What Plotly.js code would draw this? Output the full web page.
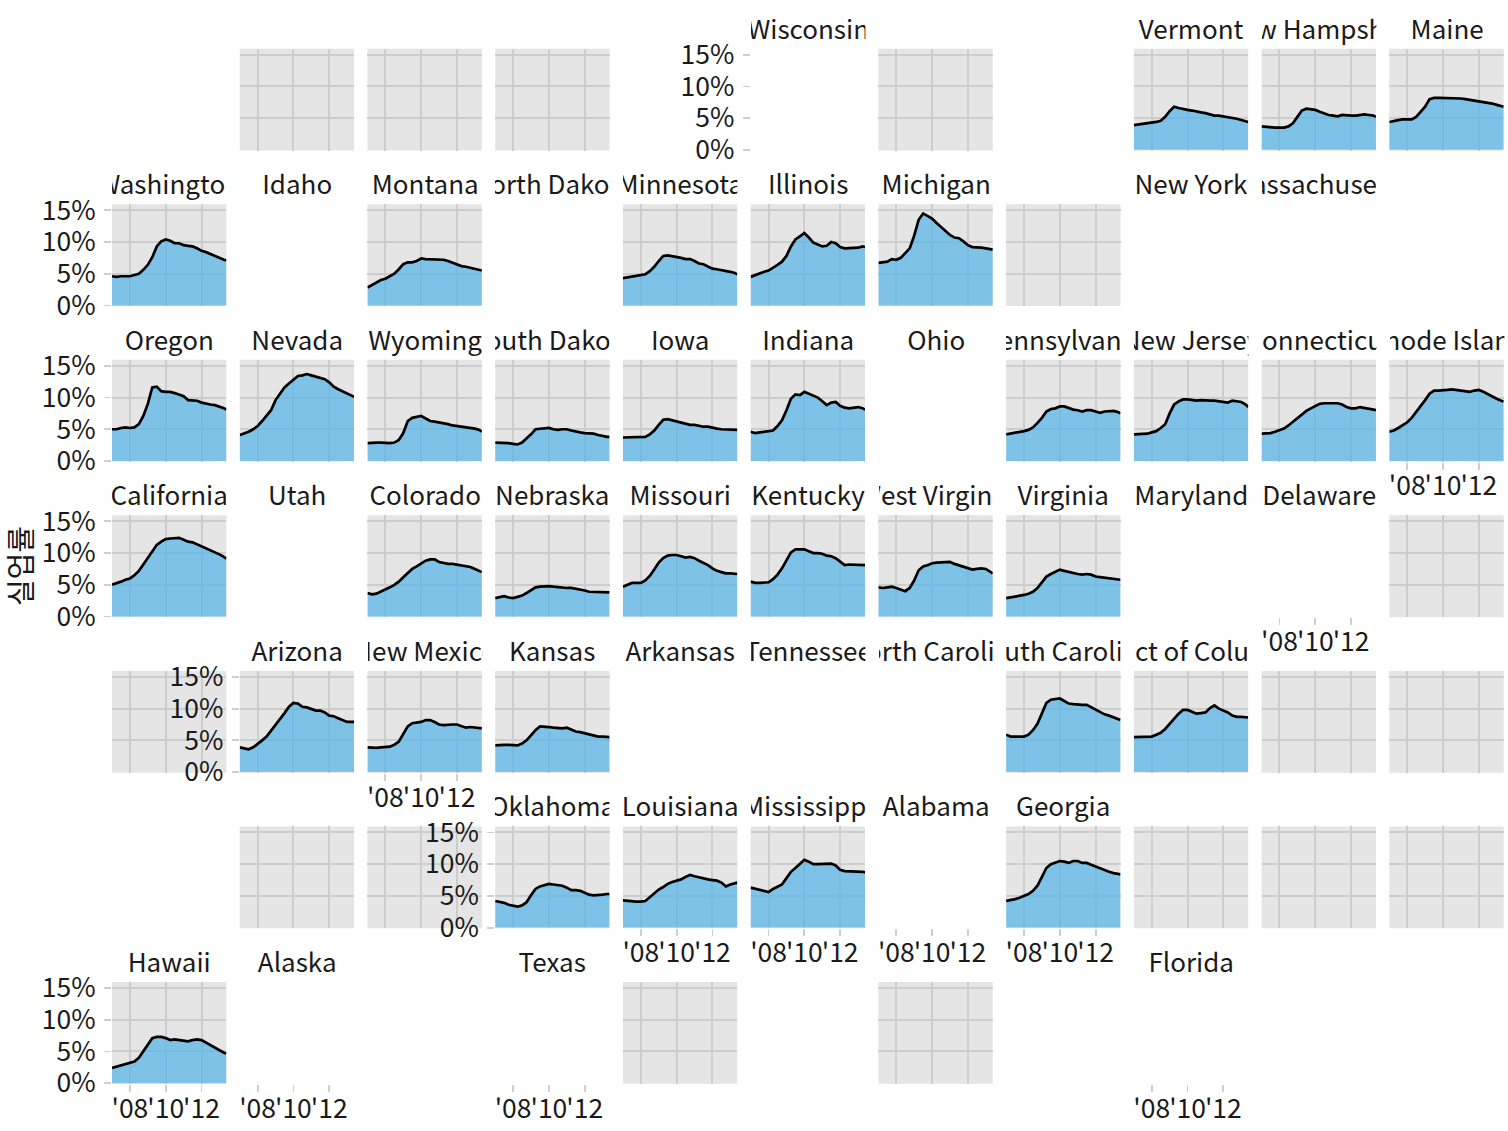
<!DOCTYPE html>
<html>
<head>
<meta charset="utf-8">
<script src="https://cdn.plot.ly/plotly-3.0.1.min.js"></script>
<style>
html,body{margin:0;padding:0;background:#ffffff;}
#chart{width:1508px;height:1131px;}
</style>
</head>
<body>
<div id="chart"></div>
<script>
// ---------------- data ----------------
const years = [2007, 2007.25, 2007.5, 2007.75, 2008, 2008.25, 2008.5, 2008.75, 2009, 2009.25, 2009.5, 2009.75,
  2010, 2010.25, 2010.5, 2010.75, 2011, 2011.25, 2011.5, 2011.75, 2012, 2012.25, 2012.5, 2012.75, 2013, 2013.25, 2013.39];
const xTickVals = [2008, 2010, 2012];
const xTickText = ["'08", "'10", "'12"];
const yTickVals = [0, 5, 10, 15];
const yTickText = ['0%', '5%', '10%', '15%'];
const yTitle = '실업률';

const vermont       = [3.9,4.0,4.0,4.2,4.3,4.4,4.6,5.2,6.1,6.8,6.6,6.4,6.3,6.2,6.0,5.9,5.8,5.6,5.4,5.4,5.3,5.1,5.0,4.9,4.7,4.5,4.4];
const newHampshire  = [3.7,3.6,3.5,3.5,3.5,3.5,3.7,4.2,5.2,6.2,6.5,6.4,6.3,6.0,5.7,5.5,5.4,5.3,5.5,5.4,5.4,5.4,5.5,5.6,5.5,5.4,5.2];
const maine         = [4.4,4.6,4.7,4.8,4.8,4.8,5.2,6.0,6.8,8.0,8.2,8.2,8.2,8.1,8.1,8.1,8.1,8.0,7.9,7.8,7.7,7.6,7.4,7.3,7.1,6.9,6.8];
const washington    = [4.6,4.5,4.6,4.6,4.6,4.8,5.0,5.6,6.4,7.6,9.3,10.1,10.4,10.2,9.8,9.8,9.5,9.4,9.3,9.0,8.6,8.4,8.1,7.8,7.4,7.2,7.1];
const montana       = [2.8,3.2,3.7,4.0,4.2,4.6,5.0,5.7,6.5,6.8,6.8,7.0,7.4,7.3,7.3,7.3,7.3,7.2,7.0,6.7,6.4,6.2,6.1,5.9,5.7,5.6,5.5];
const minnesota     = [4.3,4.4,4.5,4.6,4.7,4.9,5.4,6.1,7.0,7.8,7.9,7.8,7.6,7.5,7.3,7.3,7.0,6.6,6.5,6.1,5.8,5.7,5.6,5.5,5.3,5.1,4.9];
const illinois      = [4.5,4.8,5.1,5.3,5.5,5.9,6.4,6.9,7.8,9.3,10.4,10.9,11.4,10.7,9.9,9.6,9.3,9.4,10.0,9.8,9.2,9.0,9.0,9.0,9.1,9.3,9.2];
const michigan      = [6.7,6.8,6.9,7.3,7.2,7.5,8.2,9.0,11.0,13.5,14.5,14.1,13.7,13.0,12.4,11.8,11.1,10.7,10.6,10.1,9.5,9.2,9.2,9.1,9.0,8.9,8.8];
const oregon        = [5.0,5.0,5.2,5.3,5.2,5.3,5.8,7.1,9.0,11.6,11.7,11.0,10.9,10.9,10.7,10.5,10.2,9.6,9.5,9.5,9.2,9.0,8.9,8.8,8.6,8.3,8.1];
const nevada        = [4.1,4.3,4.6,5.0,5.5,6.3,7.2,8.0,9.6,10.7,11.6,12.2,12.8,13.4,13.5,13.7,13.5,13.3,13.1,12.9,12.4,11.7,11.3,11.0,10.7,10.3,10.1];
const wyoming       = [2.8,2.9,2.9,2.9,2.8,2.8,2.9,3.3,4.4,6.3,6.8,7.0,7.1,6.7,6.3,6.2,6.1,5.9,5.8,5.6,5.5,5.4,5.4,5.3,5.1,4.9,4.6];
const southDakota   = [2.9,2.9,2.8,2.8,2.7,2.6,2.9,3.5,4.2,5.0,5.1,5.1,5.2,5.0,4.9,5.0,5.0,4.8,4.6,4.5,4.4,4.4,4.3,4.1,3.9,3.8,3.8];
const iowa          = [3.7,3.7,3.7,3.7,3.7,3.8,4.2,4.8,5.7,6.5,6.6,6.4,6.2,6.0,5.8,5.7,5.7,5.5,5.4,5.4,5.2,5.1,5.0,5.0,4.9,4.9,4.9];
const indiana       = [4.6,4.4,4.5,4.6,4.6,4.8,5.5,6.4,8.0,9.8,10.5,10.4,10.9,10.6,10.2,10.0,9.4,8.8,9.2,9.3,8.7,8.4,8.3,8.4,8.5,8.3,8.1];
const pennsylvania  = [4.2,4.3,4.5,4.6,4.7,4.9,5.3,6.0,6.8,7.8,8.2,8.3,8.6,8.6,8.3,8.1,8.0,7.8,8.0,8.0,7.8,7.6,7.8,7.9,7.9,7.7,7.5];
const newJersey     = [4.2,4.2,4.2,4.3,4.5,4.7,5.2,5.8,7.5,8.9,9.4,9.7,9.7,9.6,9.5,9.6,9.5,9.5,9.5,9.4,9.3,9.2,9.5,9.4,9.3,8.9,8.5];
const connecticut   = [4.3,4.3,4.4,4.6,4.9,5.1,5.6,6.2,6.7,7.3,7.9,8.3,8.7,9.0,9.1,9.1,9.2,9.1,8.9,8.5,8.3,8.3,8.5,8.4,8.2,8.1,8.0];
const rhodeIsland   = [4.6,4.8,5.2,5.6,6.1,6.8,7.7,8.6,9.6,10.6,11.1,11.1,11.1,11.2,11.3,11.2,11.1,11.0,10.9,11.1,11.2,10.9,10.5,10.1,9.8,9.5,9.4];
const california    = [5.0,5.2,5.5,5.8,6.0,6.5,7.2,8.2,9.3,10.4,11.3,11.8,12.2,12.3,12.3,12.4,12.1,11.8,11.7,11.4,11.1,10.8,10.5,10.1,9.8,9.4,9.1];
const colorado      = [3.7,3.5,3.6,3.9,4.2,4.6,5.0,5.5,6.2,6.9,7.5,7.9,8.4,8.8,9.0,9.0,8.6,8.4,8.3,8.3,8.2,8.1,8.0,7.8,7.5,7.2,7.0];
const nebraska      = [2.9,3.1,3.2,3.0,2.9,3.1,3.3,3.7,4.2,4.6,4.7,4.8,4.8,4.7,4.6,4.5,4.5,4.5,4.4,4.2,4.1,3.9,3.9,3.9,3.9,3.8,3.8];
const missouri      = [4.7,5.0,5.3,5.3,5.3,5.7,6.4,7.4,8.5,9.2,9.6,9.7,9.7,9.5,9.3,9.4,9.2,8.8,8.5,8.1,7.6,7.2,7.0,6.8,6.8,6.8,6.7];
const kentucky      = [5.5,5.3,5.3,5.4,5.4,5.9,6.6,7.6,8.9,10.1,10.6,10.6,10.6,10.3,10.0,10.0,9.9,9.6,9.5,9.2,8.6,8.1,8.2,8.2,8.1,8.1,8.1];
const westVirginia  = [4.6,4.5,4.6,4.7,4.5,4.3,4.0,4.5,5.7,7.3,7.9,8.1,8.4,8.5,8.5,8.6,8.6,8.3,8.1,7.9,7.6,7.4,7.5,7.6,7.5,7.1,6.8];
const virginia      = [2.9,3.0,3.2,3.3,3.4,3.6,3.9,4.5,5.4,6.3,6.7,7.0,7.4,7.2,7.0,6.9,6.7,6.6,6.7,6.6,6.3,6.2,6.1,6.0,5.9,5.8,5.8];
const arizona       = [3.9,3.8,3.6,3.9,4.4,5.0,5.6,6.5,7.4,8.4,9.3,10.3,10.9,10.8,10.3,10.2,10.0,9.7,9.7,9.4,8.9,8.8,8.5,8.2,7.9,7.9,7.9];
const newMexico     = [3.9,3.8,3.8,3.9,3.9,4.0,4.3,4.8,6.0,7.2,7.7,7.8,7.9,8.2,8.2,7.9,7.5,7.4,7.5,7.5,7.5,7.2,7.0,7.1,7.0,6.9,6.9];
const kansas        = [4.2,4.3,4.3,4.3,4.3,4.2,4.5,5.0,5.8,6.6,7.2,7.2,7.1,7.0,6.9,6.9,7.0,6.7,6.4,6.3,6.1,5.9,5.7,5.6,5.6,5.5,5.5];
const southCarolina = [5.9,5.6,5.6,5.6,5.6,5.9,6.6,7.6,9.3,10.9,11.4,11.5,11.6,11.2,10.8,10.7,10.6,10.6,10.6,10.2,9.8,9.5,9.1,8.9,8.6,8.4,8.2];
const districtOfColumbia = [5.5,5.5,5.5,5.5,5.6,5.9,6.2,6.8,7.6,8.3,9.2,9.8,9.8,9.5,9.2,9.3,9.4,10.1,10.5,10.0,9.7,9.4,8.9,8.7,8.7,8.6,8.6];
const oklahoma      = [4.2,4.1,3.9,3.6,3.4,3.3,3.5,4.0,5.1,6.1,6.5,6.7,6.9,6.8,6.7,6.6,6.3,5.9,5.9,5.8,5.5,5.2,5.1,5.1,5.2,5.3,5.3];
const louisiana     = [4.3,4.2,4.2,4.1,4.1,4.2,4.8,5.4,6.0,6.4,6.9,7.2,7.4,7.6,8.0,8.3,8.1,7.9,7.7,7.6,7.5,7.4,7.1,6.5,6.8,7.0,7.1];
const mississippi   = [6.3,6.1,5.9,5.8,5.6,6.1,6.4,6.8,7.8,8.8,9.4,10.0,10.7,10.4,10.0,10.0,10.0,10.1,10.1,9.8,9.1,8.9,8.9,8.9,8.8,8.8,8.7];
const georgia       = [4.2,4.3,4.5,4.7,5.0,5.3,5.8,6.6,8.0,9.4,10.0,10.3,10.5,10.4,10.2,10.5,10.5,10.2,10.2,9.9,9.6,9.4,9.1,8.8,8.6,8.5,8.4];
const hawaii        = [2.4,2.6,2.7,2.9,3.1,3.4,4.0,5.0,6.0,7.1,7.3,7.3,7.1,6.8,6.9,6.8,6.7,6.6,6.8,6.9,6.8,6.4,6.0,5.5,5.1,4.8,4.7];

// geofacet grid: [strip label, row, col, series (null = no panel)]
const facetGrid = [
  ['Wisconsin',1,6,null], ['Vermont',1,9,vermont], ['New Hampshire',1,10,newHampshire], ['Maine',1,11,maine],
  ['Washington',2,1,washington], ['Idaho',2,2,null], ['Montana',2,3,montana], ['North Dakota',2,4,null],
  ['Minnesota',2,5,minnesota], ['Illinois',2,6,illinois], ['Michigan',2,7,michigan], ['New York',2,9,null], ['Massachusetts',2,10,null],
  ['Oregon',3,1,oregon], ['Nevada',3,2,nevada], ['Wyoming',3,3,wyoming], ['South Dakota',3,4,southDakota], ['Iowa',3,5,iowa],
  ['Indiana',3,6,indiana], ['Ohio',3,7,null], ['Pennsylvania',3,8,pennsylvania], ['New Jersey',3,9,newJersey],
  ['Connecticut',3,10,connecticut], ['Rhode Island',3,11,rhodeIsland],
  ['California',4,1,california], ['Utah',4,2,null], ['Colorado',4,3,colorado], ['Nebraska',4,4,nebraska], ['Missouri',4,5,missouri],
  ['Kentucky',4,6,kentucky], ['West Virginia',4,7,westVirginia], ['Virginia',4,8,virginia], ['Maryland',4,9,null], ['Delaware',4,10,null],
  ['Arizona',5,2,arizona], ['New Mexico',5,3,newMexico], ['Kansas',5,4,kansas], ['Arkansas',5,5,null], ['Tennessee',5,6,null],
  ['North Carolina',5,7,null], ['South Carolina',5,8,southCarolina], ['District of Columbia',5,9,districtOfColumbia],
  ['Oklahoma',6,4,oklahoma], ['Louisiana',6,5,louisiana], ['Mississippi',6,6,mississippi], ['Alabama',6,7,null], ['Georgia',6,8,georgia],
  ['Hawaii',7,1,hawaii], ['Alaska',7,2,null], ['Texas',7,4,null], ['Florida',7,9,null]
];
const emptyCells = [[1,2],[1,3],[1,4],[1,7],[2,8],[4,11],[5,1],[5,10],[5,11],[6,2],[6,3],[6,9],[6,10],[6,11],[7,5],[7,7]];
const yLabelCells = ['1-6','2-1','3-1','4-1','5-2','6-4','7-1'];
const xLabelCells = ['3-11','4-10','5-3','6-5','6-6','6-7','6-8','7-1','7-2','7-4','7-9'];

// ---------------- layout ----------------
const W = 1508, H = 1131;
const PW = 114.4, PH = 101.8;
const colLeft = c => 112 + 127.73 * (c - 1);
const rowTop = r => 48.7 + 155.55 * (r - 1);
const FONT = '"Noto Sans CJK KR", "Noto Sans", sans-serif';
const TXT = '#1a1a1a';
const FS_STRIP = 26;
const FS_TICK = 26.5;
const PANEL_BG = '#E5E5E5';
const GRID = '#CDCDCD';

const traces = [];
const shapes = [];
const annotations = [];
const layout = {
  width: W, height: H,
  margin: {l: 0, r: 0, t: 0, b: 0},
  paper_bgcolor: '#ffffff',
  plot_bgcolor: 'rgba(0,0,0,0)',
  showlegend: false,
  font: {family: FONT, color: TXT, size: FS_TICK}
};

let k = 0;
function addAxes(row, col, panel, series) {
  k += 1;
  const sx = k === 1 ? '' : String(k);
  const key = row + '-' + col;
  const showY = yLabelCells.includes(key);
  const showX = xLabelCells.includes(key);
  const L = colLeft(col), T = rowTop(row);
  layout['xaxis' + sx] = {
    domain: [L / W, (L + PW) / W], anchor: 'y' + sx,
    range: [2007.0, 2013.39], fixedrange: true,
    tickmode: 'array', tickvals: xTickVals, ticktext: xTickText, tickangle: 0,
    showticklabels: showX, ticks: showX ? 'outside' : '', ticklen: 7, tickwidth: 1.8, tickcolor: '#CFCFCF',
    ticklabelstandoff: -6,
    tickfont: {family: FONT, size: FS_TICK, color: TXT},
    showgrid: panel, gridcolor: GRID, gridwidth: 2,
    zeroline: false, showline: false
  };
  layout['yaxis' + sx] = {
    domain: [1 - (T + PH) / H, 1 - T / H], anchor: 'x' + sx,
    range: [-0.1, 15.95], fixedrange: true,
    tickmode: 'array', tickvals: yTickVals, ticktext: yTickText, tickangle: 0,
    showticklabels: showY, ticks: showY ? 'outside' : '', ticklen: 7, tickwidth: 1.8, tickcolor: '#CFCFCF',
    ticklabelstandoff: 3,
    tickfont: {family: FONT, size: FS_TICK, color: TXT},
    showgrid: panel, gridcolor: GRID, gridwidth: 2,
    zeroline: false, showline: false
  };
  if (panel) {
    shapes.push({type: 'rect', xref: 'x' + sx + ' domain', yref: 'y' + sx + ' domain',
      x0: 0, x1: 1, y0: 0, y1: 1, fillcolor: PANEL_BG, line: {width: 0}, layer: 'below'});
  }
  if (series) {
    traces.push({type: 'scatter', mode: 'lines', x: years, y: series, xaxis: 'x' + sx, yaxis: 'y' + sx,
      fill: 'tozeroy', fillcolor: 'rgba(86,180,233,0.72)', line: {color: '#000000', width: 2.7},
      hoverinfo: 'skip', showlegend: false});
  } else {
    traces.push({type: 'scatter', mode: 'lines', x: [], y: [], xaxis: 'x' + sx, yaxis: 'y' + sx,
      hoverinfo: 'skip', showlegend: false});
  }
}

// empty grey panels first so that neighbouring tick labels are drawn above their grid
emptyCells.forEach(([row, col]) => addAxes(row, col, true, null));

facetGrid.forEach(([name, row, col, series]) => {
  const key = row + '-' + col;
  if (series || yLabelCells.includes(key) || xLabelCells.includes(key)) {
    addAxes(row, col, !!series, series);
  }
  annotations.push({
    xref: 'paper', yref: 'paper',
    x: (colLeft(col) + PW / 2) / W, y: 1 - (rowTop(row) - 21.5) / H,
    xanchor: 'center', yanchor: 'middle', align: 'center',
    text: name, showarrow: false, width: PW,
    font: {family: FONT, size: FS_STRIP, color: TXT}
  });
});

annotations.push({
  xref: 'paper', yref: 'paper', x: 19 / W, y: 1 - 566 / H,
  xanchor: 'center', yanchor: 'middle', textangle: -90,
  text: yTitle, showarrow: false,
  font: {family: FONT, size: 29, color: TXT}
});

layout.shapes = shapes;
layout.annotations = annotations;

Plotly.newPlot('chart', traces, layout, {staticPlot: true, displayModeBar: false});
</script>
</body>
</html>
